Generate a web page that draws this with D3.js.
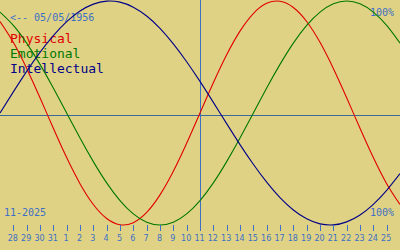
<!DOCTYPE html>
<html>
<head>
<meta charset="utf-8">
<script src="https://cdn.jsdelivr.net/npm/d3@7"></script>
<style>
html,body{margin:0;padding:0;background:#e0d284;overflow:hidden;}
svg{display:block;}
</style>
</head>
<body>
<svg id="chart" width="400" height="250"></svg>
<script>
// Day labels under the ticks (Oct 28 .. Nov 25)
const dayLabels = ["28","29","30","31","1","2","3","4","5","6","7","8","9","10","11","12","13","14","15","16","17","18","19","20","21","22","23","24","25"];
// Day offsets relative to today (Nov 11) for each curve sample, Oct 27 .. Nov 26
const offsets = [-15,-14,-13,-12,-11,-10,-9,-8,-7,-6,-5,-4,-3,-2,-1,0,1,2,3,4,5,6,7,8,9,10,11,12,13,14,15];
const physical = [0.817,0.631,0.398,0.136,-0.136,-0.398,-0.631,-0.817,-0.942,-0.998,-0.979,-0.888,-0.731,-0.520,-0.270,0,0.270,0.520,0.731,0.888,0.979,0.998,0.942,0.817,0.631,0.398,0.136,-0.136,-0.398,-0.631,-0.817];
const emotional = [0.901,0.782,0.624,0.434,0.223,0,-0.223,-0.434,-0.624,-0.782,-0.901,-0.975,-1,-0.975,-0.901,-0.782,-0.624,-0.434,-0.223,0,0.223,0.434,0.624,0.782,0.901,0.975,1,0.975,0.901,0.782,0.624];
const intellectual = [0,0.189,0.372,0.541,0.690,0.815,0.910,0.972,0.999,0.990,0.945,0.866,0.756,0.618,0.458,0.282,0.095,-0.095,-0.282,-0.458,-0.618,-0.756,-0.866,-0.945,-0.990,-0.999,-0.972,-0.910,-0.815,-0.690,-0.541];
const legendNames = ["Physical","Emotional","Intellectual"];
const legendColors = ["#e00000","#007800","#000088"];
const birthText = "<-- 05/05/1956";
const monthText = "11-2025";
const maxText = "100%";

const svg = d3.select("#chart");
const W = 400, H = 250;
const x = d3.scaleLinear().domain([-15, 15]).range([0, W]);
const y = d3.scaleLinear().domain([-1, 1]).range([225, 1]);
const blue = "#3c70c4";

svg.append("rect").attr("width", W).attr("height", H).attr("fill", "#e0d284");

// center line
svg.append("line").attr("x1", 0).attr("x2", W)
  .attr("y1", 115.5).attr("y2", 115.5)
  .attr("stroke", "#3a6a9a").attr("stroke-width", 1);

// today line
svg.append("line").attr("x1", x(0) + 0.5).attr("x2", x(0) + 0.5)
  .attr("y1", 0).attr("y2", 230)
  .attr("stroke", blue).attr("stroke-width", 1);

// legend
const fontMono = "'DejaVu Sans Mono', 'Liberation Mono', monospace";
legendNames.forEach((n, i) => {
  svg.append("text").attr("x", 10).attr("y", 43 + i * 15)
    .attr("font-family", fontMono).attr("font-size", 13)
    .attr("fill", legendColors[i]).text(n);
});

svg.append("text").attr("x", 10).attr("y", 21)
  .attr("font-family", fontMono).attr("font-size", 10)
  .attr("fill", blue).text(birthText);
svg.append("text").attr("x", 4).attr("y", 216)
  .attr("font-family", fontMono).attr("font-size", 10)
  .attr("fill", blue).text(monthText);
svg.append("text").attr("x", 394).attr("y", 16).attr("text-anchor", "end")
  .attr("font-family", fontMono).attr("font-size", 10)
  .attr("fill", blue).text(maxText);
svg.append("text").attr("x", 394).attr("y", 216).attr("text-anchor", "end")
  .attr("font-family", fontMono).attr("font-size", 10)
  .attr("fill", blue).text(maxText);

// curves
const series = [physical, emotional, intellectual];
const line = d3.line()
  .x((d, i) => x(offsets[i]))
  .y(d => y(d))
  .curve(d3.curveNatural);
series.forEach((s, i) => {
  svg.append("path").datum(s)
    .attr("d", line)
    .attr("fill", "none")
    .attr("stroke", legendColors[i])
    .attr("stroke-width", 1.1);
});

// day axis
const ticks = offsets.slice(1, offsets.length - 1);
const g = svg.append("g");
g.selectAll("line.tick").data(ticks).join("line")
  .attr("class", "tick")
  .attr("x1", d => Math.round(x(d)) + 0.5).attr("x2", d => Math.round(x(d)) + 0.5)
  .attr("y1", 225).attr("y2", 231)
  .attr("stroke", blue).attr("stroke-width", 1);
g.selectAll("text.lbl").data(ticks).join("text")
  .attr("class", "lbl")
  .attr("x", d => x(d) - 0.5).attr("y", 241)
  .attr("text-anchor", "middle")
  .attr("font-family", "'DejaVu Sans', sans-serif")
  .attr("font-size", 8)
  .attr("fill", blue)
  .text((d, i) => dayLabels[i]);
</script>
</body>
</html>
